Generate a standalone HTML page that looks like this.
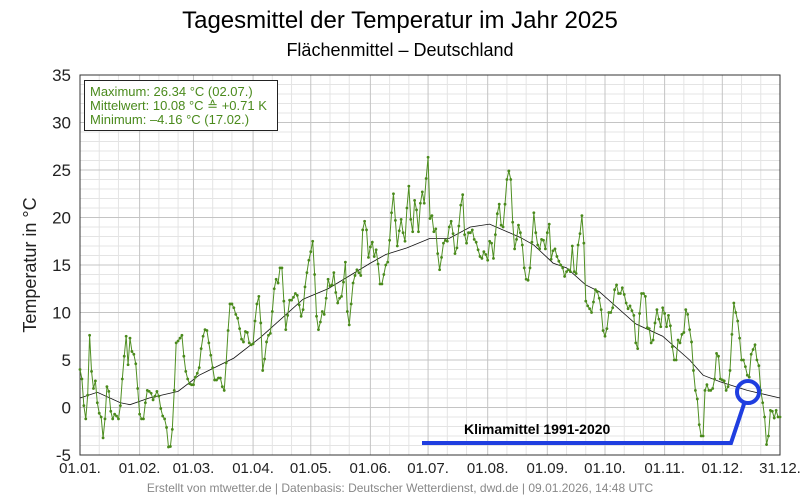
<!DOCTYPE html>
<html><head><meta charset="utf-8"><style>
body{margin:0;background:#fff;font-family:"Liberation Sans",sans-serif;}
svg{display:block}
</style></head><body>
<svg id="chart" width="800" height="500" viewBox="0 0 800 500">
<text x="400" y="28" text-anchor="middle" font-size="24" fill="#000">Tagesmittel der Temperatur im Jahr 2025</text>
<text x="400" y="56" text-anchor="middle" font-size="18" fill="#000">Flächenmittel – Deutschland</text>
<g id="grid"></g>
<g id="axes"></g>
<g id="series"></g>
<text transform="translate(36,265) rotate(-90)" text-anchor="middle" font-size="18" fill="#222">Temperatur in °C</text>
<g>
<rect x="84.5" y="80.5" width="193" height="50" fill="#fff" stroke="#222" stroke-width="1"/>
<text x="90" y="96" font-size="13" fill="#4a8a1c">Maximum: 26.34 °C (02.07.)</text>
<text x="90" y="110" font-size="13" fill="#4a8a1c">Mittelwert: 10.08 °C ≙ +0.71 K</text>
<text x="90" y="124" font-size="13" fill="#4a8a1c">Minimum:  –4.16 °C (17.02.)</text>
</g>
<g>
<polyline points="422,443 731,443 744,404" fill="none" stroke="#1f3ee0" stroke-width="4"/>
<circle cx="748" cy="392" r="11" fill="none" stroke="#1f3ee0" stroke-width="4"/>
<text x="464" y="434" font-size="14" font-weight="bold" fill="#000">Klimamittel 1991-2020</text>
</g>
<text x="400" y="492" text-anchor="middle" font-size="12" fill="#888">Erstellt von mtwetter.de | Datenbasis: Deutscher Wetterdienst, dwd.de | 09.01.2026, 14:48 UTC</text>
</svg>
<script>
const temps = [4,3,0.2,-1.2,1.3,7.6,3.8,2.0,2.8,0.5,-0.6,-1,-3.2,-1.2,2.2,1.7,-0.4,-1.2,-0.7,-0.9,-1.2,0.2,3.0,5.4,7.5,4.5,7.3,5.9,5.6,4.6,2.0,-0.7,-1.2,-1.2,0.5,1.8,1.7,1.5,0.8,1.2,1.7,1.2,-0.1,-0.9,-1.2,-2.1,-4.16,-4.1,-2.3,1.8,6.8,7.0,7.3,7.6,5.4,3.8,3.0,2.5,2.4,2.4,3.2,3.6,
4.2,6.2,7.5,8.2,8.1,6.8,5.5,4.2,2.9,2.9,3.1,3.1,2.2,1.8,4.7,8.1,10.9,10.9,10.5,9.8,9.4,8.3,7.2,6.9,8.0,7.9,6.8,6.6,6.7,9.1,10.9,11.7,8.9,3.9,5.1,6.9,7.6,7.8,10.1,12.5,13.5,13.1,14.7,14.7,11.2,8.2,9.7,11.3,11.3,11.6,12.0,11.8,10.8,9.6,10.3,12.7,14.2,15.5,16.4,17.5,14.0,9.6,8.2,9.0,10.1,9.8,11.5,13.5,
12.8,12.9,14.2,12.1,11.0,11.5,11.7,13.2,15.3,10.1,8.7,10.9,13.1,13.9,14.5,14.2,13.9,18.7,19.6,18.7,15.8,16.9,17.4,15.9,16.6,15.1,13.0,13.0,14.0,15.0,15.3,17.6,20.5,22.5,19.7,17.0,18.6,19.8,18.4,17.5,21.0,23.3,19.8,18.5,21.8,20.8,18.5,21.5,22.7,21.5,24.1,26.34,19.9,20.2,18.5,18.8,16.2,14.5,15.8,17.3,17.6,17.5,
19.0,19.6,18.3,16.2,16.8,19.1,21.3,22.4,18.2,17.3,18.4,18.4,18.7,17.7,17.4,16.6,15.9,15.7,16.4,16.1,15.5,17.5,17.3,15.7,18.2,20.4,21.4,19.2,19.0,21.4,24.0,24.9,24.0,19.5,16.7,17.7,19.2,18.4,17.1,14.7,13.5,13.4,14.7,17.4,20.5,18.4,17.1,16.7,17.7,17.6,16.7,18.4,19.3,15.6,16.5,16.7,15.9,15.4,15.0,14.7,13.8,14.3,
14.5,14.3,17.0,14.3,14.1,17.1,18.3,20.2,17.3,11.2,10.7,10.4,10.0,11.1,12.4,12.2,11.5,10.3,8.1,7.5,8.3,10.0,10.0,10.5,12.4,12.9,12.0,12.0,12.6,11.9,11.0,10.4,10.7,10.2,9.7,6.8,6.2,9.9,12.0,12.0,11.7,8.4,8.3,6.8,7.1,8.9,10.3,9.3,8.5,10.5,9.9,8.5,9.7,8.6,6.4,5.0,5.0,7.1,6.8,7.7,7.9,10.3,9.8,
8.2,6.9,3.9,1.8,0.9,-1.8,-3.0,-3.0,1.8,2.4,1.8,1.8,2.0,3.0,5.7,5.4,3.0,2.9,2.8,1.8,2.2,3.9,7.7,11.0,10.0,9.1,7.3,5.0,5.0,4.3,3.4,3.2,5.6,6.1,6.6,5.0,4.4,1.8,0.5,-1.0,-3.9,-3.0,-0.3,-0.4,-1.1,-0.3,-1.0,-1.0];
const climDays = [0,9,21,26,36,51,62,66,80,94,116,129,151,159,170,182,192,203,213,229,236,246,253,263,270,289,303,317,324,333,347,364];
const climTemps = [1.0,1.6,0.5,0.3,1.0,1.7,3.4,3.8,5.2,7.4,11.4,12.5,15.2,16.1,16.8,17.8,17.8,19.0,19.3,17.9,17.1,15.2,14.7,12.9,12.2,8.8,7.5,5.0,3.4,2.7,1.8,1.0];
const yTicks = [-5,0,5,10,15,20,25,30,35];
const monthDays = [0,31,59,90,120,151,181,212,243,273,304,334,364];
const monthLabels = ["01.01.","01.02.","01.03.","01.04.","01.05.","01.06.","01.07.","01.08.","01.09.","01.10.","01.11.","01.12.","31.12."];

const NS="http://www.w3.org/2000/svg";
const X0=80,X1=780,Y0=455,Y1=75,TMIN=-5,TMAX=35;
const xs=d=>X0+d*(X1-X0)/364;
const ys=t=>Y0-(t-TMIN)*(Y0-Y1)/(TMAX-TMIN);
function mk(tag,attrs,parent){const e=document.createElementNS(NS,tag);for(const k in attrs)e.setAttribute(k,attrs[k]);parent.appendChild(e);return e;}
const grid=document.getElementById('grid'),axes=document.getElementById('axes'),ser=document.getElementById('series');
for(let t=TMIN;t<=TMAX;t++){if(t%5===0)continue;const l=mk('line',{x1:X0,x2:X1,y1:ys(t),y2:ys(t),stroke:'#e4e4e4','stroke-width':1},grid);

}
for(let m=0;m<12;m++){[10,20].forEach(o=>{const d=monthDays[m]+o;const l=mk('line',{x1:xs(d),x2:xs(d),y1:Y1,y2:Y0,stroke:'#e4e4e4','stroke-width':1},grid);

});}
yTicks.forEach(t=>{const l=mk('line',{x1:X0,x2:X1,y1:ys(t),y2:ys(t),stroke:'#c4c4c4','stroke-width':1},grid);


const tx=mk('text',{x:71,y:ys(t)+6,'text-anchor':'end','font-size':17,fill:'#222'},axes);tx.textContent=t;

});
monthDays.forEach((d,i)=>{const l=mk('line',{x1:xs(d),x2:xs(d),y1:Y1,y2:Y0,stroke:'#c4c4c4','stroke-width':1},grid);


const tx=mk('text',{x:xs(d),y:473,'text-anchor':'middle','font-size':15,fill:'#222'},axes);tx.textContent=monthLabels[i];

});
const frame=mk('rect',{x:X0,y:Y1,width:X1-X0,height:Y0-Y1,fill:'none',stroke:'#333','stroke-width':1},axes);


const cl=mk('polyline',{points:climDays.map((d,i)=>xs(d)+','+ys(climTemps[i])).join(' '),fill:'none',stroke:'#111','stroke-width':0.8},ser);


const n=temps.length;
const xd=i=>xs(i*364/(n-1));
const tl=mk('polyline',{points:temps.map((t,i)=>xd(i)+','+ys(t)).join(' '),fill:'none',stroke:'#4f8f22','stroke-width':1},ser);


temps.forEach((t,i)=>{const c=mk('circle',{cx:xd(i),cy:ys(t),r:1.4,fill:'#4a8a1c'},ser);

});
</script>
</body></html>
